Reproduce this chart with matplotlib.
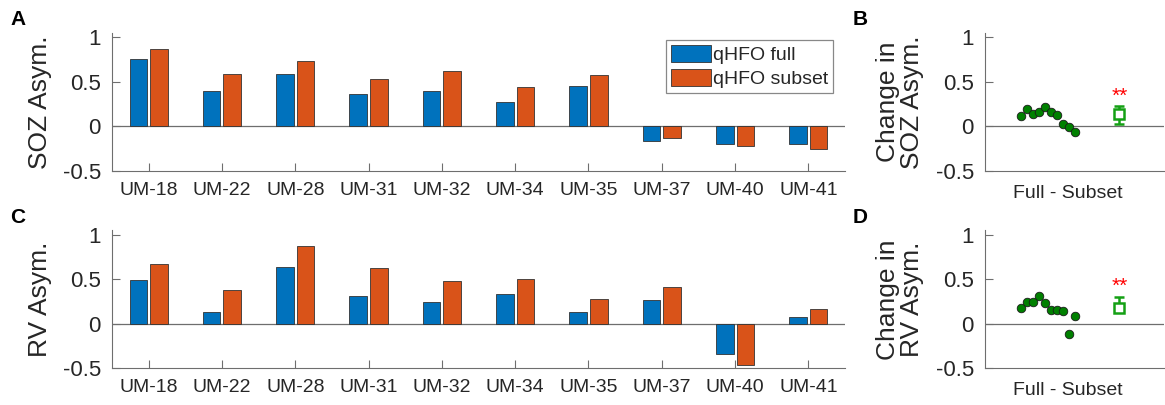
import numpy as np
import matplotlib
matplotlib.use("Agg")
import matplotlib.pyplot as plt

plt.rcParams['font.family'] = ['Liberation Sans', 'DejaVu Sans']

# Data
patients = ['UM-18', 'UM-22', 'UM-28', 'UM-31', 'UM-32',
            'UM-34', 'UM-35', 'UM-37', 'UM-40', 'UM-41']
soz_full = [0.76, 0.40, 0.59, 0.36, 0.40, 0.28, 0.46, -0.16, -0.20, -0.20]
soz_subset = [0.87, 0.59, 0.735, 0.53, 0.62, 0.44, 0.58, -0.13, -0.22, -0.25]
rv_full = [0.49, 0.13, 0.64, 0.31, 0.25, 0.34, 0.127, 0.27, -0.34, 0.08]
rv_subset = [0.666, 0.374, 0.876, 0.63, 0.48, 0.50, 0.28, 0.415, -0.46, 0.17]

soz_change = [0.114, 0.20, 0.136, 0.167, 0.22, 0.167, 0.125, 0.03, -0.011, -0.057]
rv_change = [0.175, 0.243, 0.24, 0.315, 0.23, 0.15, 0.157, 0.14, -0.12, 0.093]
# summary marker: centre, lower, upper
soz_summary = [0.141, 0.03, 0.225]
rv_summary = [0.18, 0.13, 0.306]
series_names = ['qHFO full', 'qHFO subset']

blue = '#0072BD'
orange = '#D95319'
green_dot = '#008000'
green_sq = '#14a014'
axis_col = '#6e6e6e'
text_col = '#262626'

W, H = 1165, 405
fig = plt.figure(figsize=(W / 100, H / 100), dpi=100)


def style_axes(ax, ylabel, lab_x):
    for s in ['top', 'right']:
        ax.spines[s].set_visible(False)
    for s in ['left', 'bottom']:
        ax.spines[s].set_color(axis_col)
        ax.spines[s].set_linewidth(0.8)
    ax.set_ylim(-0.5, 1.05)
    ax.set_yticks([-0.5, 0, 0.5, 1])
    ax.set_yticklabels(['-0.5', '0', '0.5', '1'])
    ax.tick_params(axis='y', direction='in', length=5.5, width=0.8, color=axis_col,
                   labelsize=16, labelcolor=text_col, pad=8)
    ax.axhline(0, color=axis_col, lw=0.9, zorder=1)
    ax.set_ylabel(ylabel, fontsize=19, color=text_col, linespacing=1.0)
    ax.yaxis.set_label_coords(lab_x, 0.5)


def bar_panel(ax, full, subset, ylabel, legend=False):
    x = np.arange(1, len(patients) + 1)
    ax.bar(x - 0.14, full, 0.24, color=blue, edgecolor='#333333', lw=0.6,
           label=series_names[0], zorder=2)
    ax.bar(x + 0.14, subset, 0.24, color=orange, edgecolor='#333333', lw=0.6,
           label=series_names[1], zorder=2)
    ax.set_xlim(0.5, 10.5)
    ax.set_xticks(x)
    ax.set_xticklabels(patients)
    ax.tick_params(axis='x', direction='in', length=5.5, width=0.8, color=axis_col,
                   labelsize=14, labelcolor=text_col, pad=8)
    style_axes(ax, ylabel, -0.082)
    if legend:
        leg = ax.legend(loc='upper right', bbox_to_anchor=(1 - 12 / 733, 1 - 7 / 138),
                        borderaxespad=0, fontsize=14, handlelength=2.05,
                        handleheight=0.95, handletextpad=0.12, labelspacing=0.28,
                        borderpad=0.25, fancybox=False, edgecolor='#888888',
                        framealpha=1)
        leg.get_frame().set_linewidth(0.9)
        for t in leg.get_texts():
            t.set_color(text_col)


def change_panel(ax, change, summary, ylabel):
    xs = np.linspace(0.2, 0.5, len(change))
    ax.scatter(xs, change, s=38, color=green_dot, edgecolor='#1a1a1a', lw=0.6, zorder=3)
    c, lo, hi = summary
    ax.errorbar([0.75], [c], yerr=[[c - lo], [hi - c]], fmt='s', mfc='white',
                mec=green_sq, color=green_sq, ms=7, mew=1.8, elinewidth=1.8,
                capsize=3.6, capthick=1.8, zorder=3)
    ax.text(0.75, hi + 0.11, '**', color='red', fontsize=15, ha='center', va='center')
    ax.set_xlim(0, 1)
    ax.set_xticks([0.465])
    ax.set_xticklabels(['Full - Subset'])
    ax.tick_params(axis='x', length=0, labelsize=14, labelcolor=text_col, pad=10)
    style_axes(ax, ylabel, -0.34)


axA = fig.add_axes([112 / W, 1 - 171 / H, 733 / W, 138 / H])
axB = fig.add_axes([985 / W, 1 - 171 / H, 179 / W, 138 / H])
axC = fig.add_axes([112 / W, 1 - 368.3 / H, 733 / W, 138 / H])
axD = fig.add_axes([985 / W, 1 - 368.3 / H, 179 / W, 138 / H])

bar_panel(axA, soz_full, soz_subset, 'SOZ Asym.', legend=True)
bar_panel(axC, rv_full, rv_subset, 'RV Asym.')
change_panel(axB, soz_change, soz_summary, 'Change in\nSOZ Asym.')
change_panel(axD, rv_change, rv_summary, 'Change in\nRV Asym.')

for lab, x, y in [('A', 10, 25), ('B', 853, 25), ('C', 10, 223), ('D', 853, 223)]:
    fig.text(x / W, 1 - y / H, lab, fontsize=15, fontweight='bold', color='black',
             va='baseline', ha='left')

fig.savefig('out.png', dpi=100)
